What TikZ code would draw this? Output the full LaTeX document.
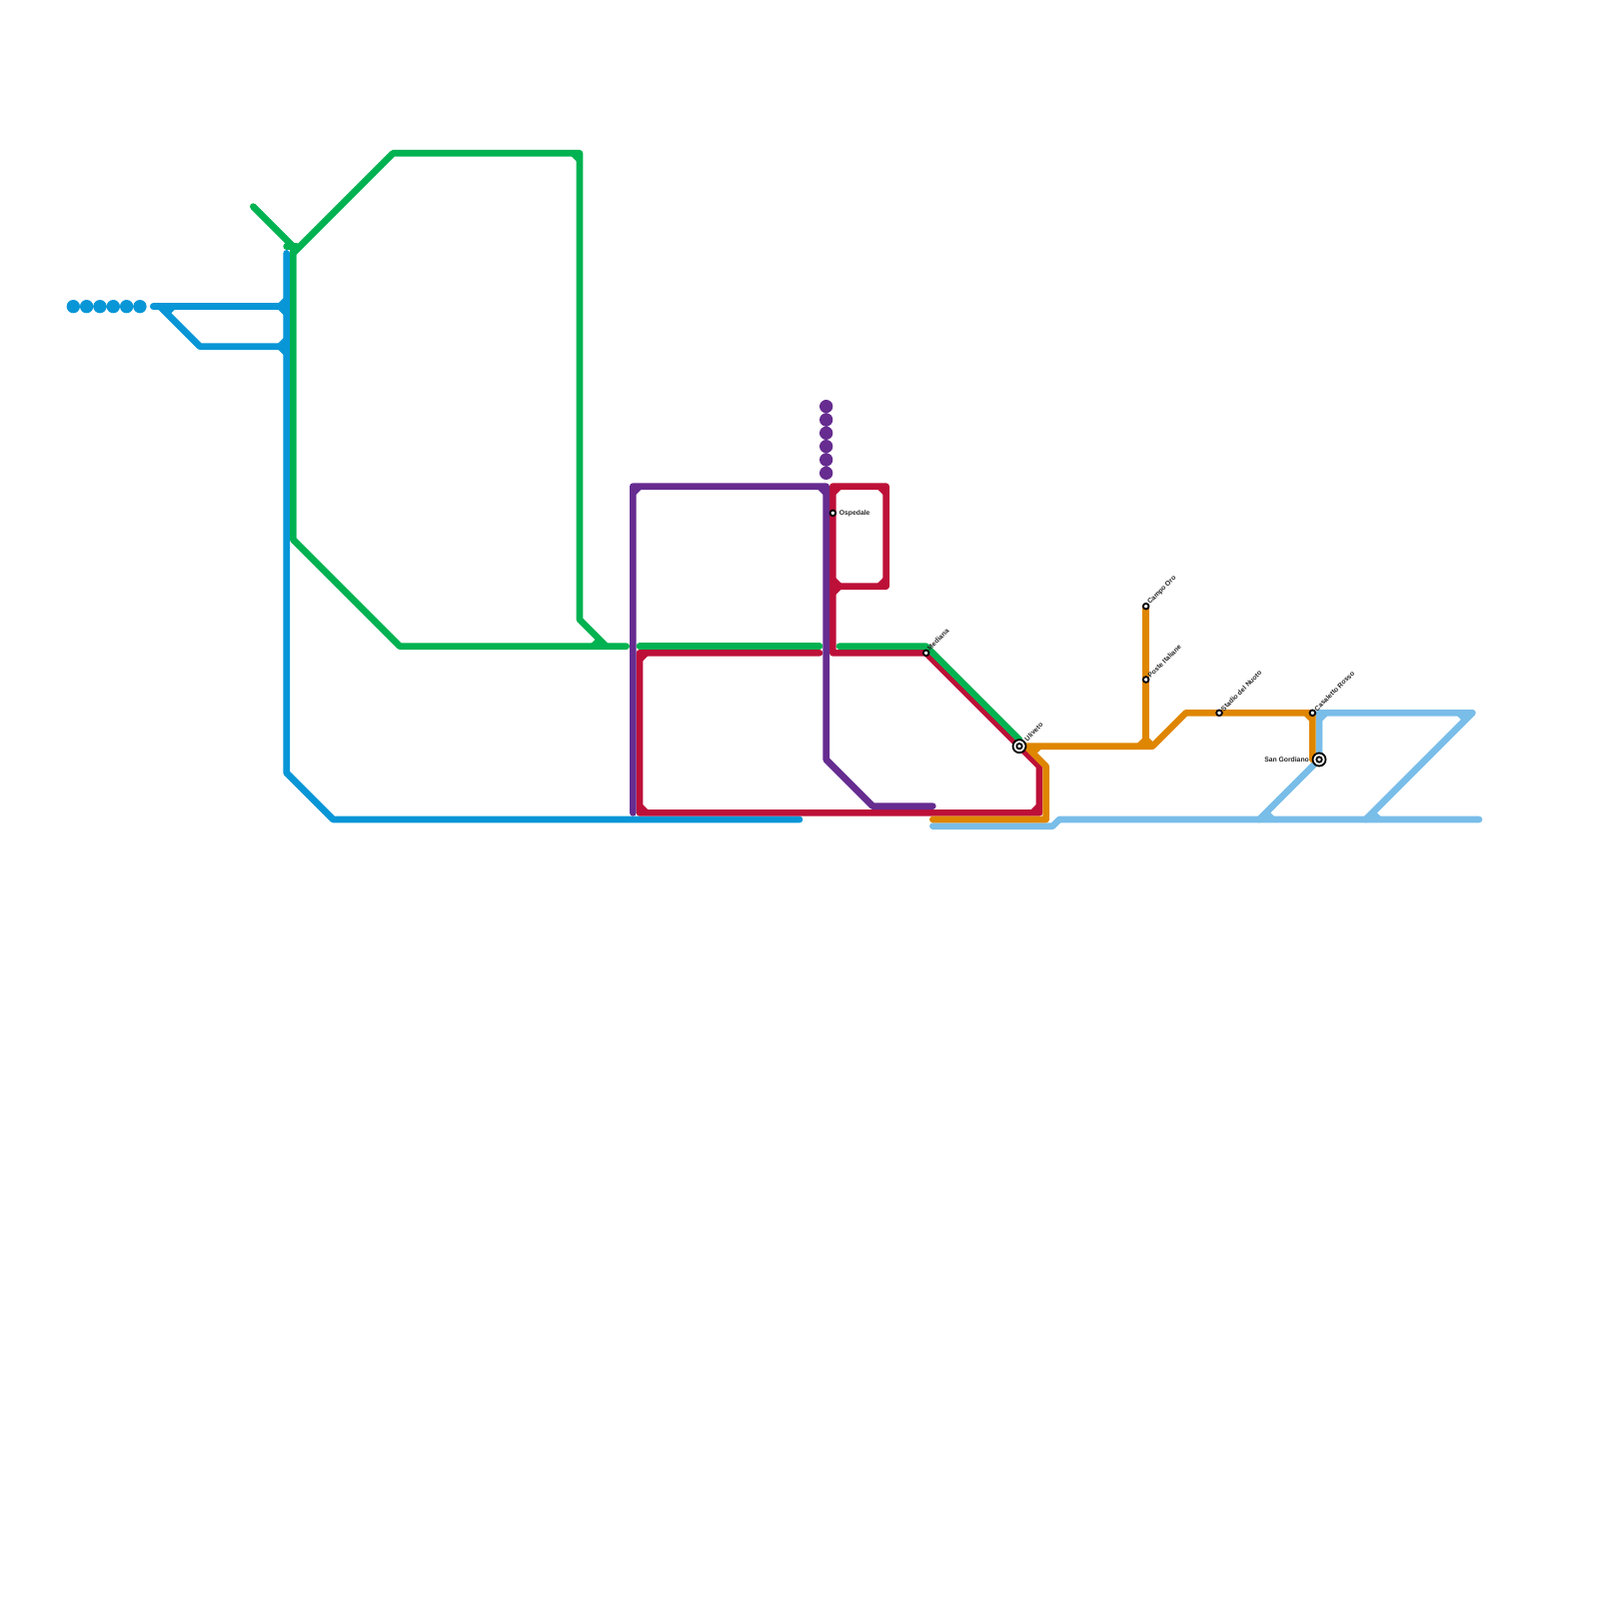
\documentclass[tikz,border=0pt]{standalone}
\usepackage{fontspec}
\setmainfont{Liberation Sans}
\usetikzlibrary{positioning}
\definecolor{lineblue}{HTML}{0896D7}
\definecolor{linegreen}{HTML}{00B251}
\definecolor{linepurple}{HTML}{662C90}
\definecolor{linered}{HTML}{BD1038}
\definecolor{lineorange}{HTML}{DF8600}
\definecolor{linesky}{HTML}{79BDE9}
\begin{document}
\begin{tikzpicture}[
  x=1mm, y=-1mm,
  metro/.style={draw=#1, line width=1mm, line cap=round, line join=round},
  stub/.style={draw=#1, line width=1mm},
  halt/.style={circle, draw=black, line width=0.27mm, fill=white,
    minimum size=0.85mm, inner sep=0pt},
  hub/.style={circle, draw=black, line width=0.27mm, fill=white,
    minimum size=1.95mm, inner sep=0pt},
  hubcore/.style={circle, draw=black, line width=0.27mm, fill=white,
    minimum size=0.8mm, inner sep=0pt},
  tag/.style={font=\fontsize{2.9}{3.5}\selectfont\bfseries, text=black!85, inner sep=0pt},
  slanted/.style={tag, rotate=45, anchor=west},
]

% Canvas
\useasboundingbox (0,0) rectangle (240,240);

% =============================================
% Stations (placed first, drawn again on top)
% =============================================
\coordinate (c-ospedale) at (125,77);
\coordinate (c-mediana) at (139,98);
\coordinate (c-uliveto) at (153,112);
\coordinate (c-campo) at (172,91);
\coordinate (c-poste) at (172,102);
\coordinate (c-stadio) at (183,107);
\coordinate (c-casaletto) at (197,107);
\coordinate (c-gordiano) at (198,114);

% =============================================
% Light blue line
% =============================================
\draw[metro=linesky] (140,124) -- (158,124) -- (159,123) -- (222,123);
\draw[metro=linesky] (189,123) -- (c-gordiano) -- (198,107) -- (221,107) -- (205,123);
\draw[stub=linesky] (190,122) -- (191,123);
\draw[stub=linesky] (206,122) -- (207,123);
\draw[stub=linesky] (219,107) -- (220,108);
\draw[stub=linesky] (198,108) -- (199,107);

% =============================================
% Blue line
% =============================================
\draw[metro=lineblue] (43,38) -- (43,116) -- (50,123) -- (120,123);
\draw[metro=lineblue] (23,46) -- (43,46);
\draw[metro=lineblue] (24,46) -- (30,52) -- (43,52);
\draw[stub=lineblue] (42,46) -- (43,45);
\draw[stub=lineblue] (42,46) -- (43,47);
\draw[stub=lineblue] (42,52) -- (43,51);
\draw[stub=lineblue] (42,52) -- (43,53);
\draw[stub=lineblue] (26,46) -- (25,47);
\fill[lineblue] (11,46) circle (1) (13,46) circle (1) (15,46) circle (1)
  (17,46) circle (1) (19,46) circle (1) (21,46) circle (1);

% =============================================
% Red line
% =============================================
\draw[metro=linered] (123,98) -- (96,98) -- (96,122) -- (156,122) -- (156,115)
  -- (c-uliveto) -- (c-mediana) -- (125,98) -- (125,73) -- (133,73) -- (133,88) -- (125,88);
\draw[stub=linered] (96,99) -- (97,98);
\draw[stub=linered] (96,121) -- (97,122);
\draw[stub=linered] (155,122) -- (156,121);
\draw[stub=linered] (125,74) -- (126,73);
\draw[stub=linered] (132,73) -- (133,74);
\draw[stub=linered] (132,88) -- (133,87);
\draw[stub=linered] (125,87) -- (126,88);
\draw[stub=linered] (125,89) -- (126,88);

% =============================================
% Green line
% =============================================
\draw[metro=linegreen] (38,31) -- (44,37) -- (44,81) -- (60,97) -- (94,97);
\draw[metro=linegreen] (44,38) -- (59,23) -- (87,23) -- (87,93) -- (91,97);
\draw[metro=linegreen] (43,37) -- (44.5,37);
\draw[stub=linegreen] (86,23) -- (87,24);
\draw[stub=linegreen] (89,97) -- (90,96);
\draw[metro=linegreen] (96,97) -- (123,97);
\draw[metro=linegreen] (126,97) -- (139,97) -- (153,111);

% =============================================
% Purple line
% =============================================
\draw[metro=linepurple] (95,122) -- (95,73) -- (124,73) -- (124,114) -- (131,121) -- (140,121);
\draw[stub=linepurple] (95,74) -- (96,73);
\draw[stub=linepurple] (123,73) -- (124,74);
\fill[linepurple] (124,61) circle (1) (124,63) circle (1) (124,65) circle (1)
  (124,67) circle (1) (124,69) circle (1) (124,71) circle (1);

% =============================================
% Orange line
% =============================================
\draw[metro=lineorange] (140,123) -- (157,123) -- (157,115) -- (154,112) -- (173,112)
  -- (178,107) -- (c-casaletto) -- (197,114);
\draw[metro=lineorange] (c-campo) -- (172,112);
\draw[stub=lineorange] (155,113) -- (156,112);
\draw[stub=lineorange] (171,112) -- (172,111);
\draw[stub=lineorange] (172,111) -- (173,112);
\draw[stub=lineorange] (196,107) -- (197,108);

% =============================================
% Station marks and labels
% =============================================
\node[halt] (ospedale) at (c-ospedale) {};
\node[tag, right=0.35mm of ospedale] (ospedale-tag) {Ospedale};

\node[halt] (mediana) at (c-mediana) {};
\node[slanted] (mediana-tag) at ([shift={(0.3,-0.5)}]c-mediana) {Mediana};

\node[hub] (uliveto) at (c-uliveto) {};
\node[hubcore] (uliveto-core) at (c-uliveto) {};
\node[slanted] (uliveto-tag) at ([shift={(0.9,-0.9)}]c-uliveto) {Uliveto};

\node[halt] (campo) at (c-campo) {};
\node[slanted] (campo-tag) at ([shift={(0.4,-0.4)}]c-campo) {Campo Oro};

\node[halt] (poste) at (c-poste) {};
\node[slanted] (poste-tag) at ([shift={(0.4,-0.4)}]c-poste) {Poste Italiane};

\node[halt] (stadio) at (c-stadio) {};
\node[slanted] (stadio-tag) at ([shift={(0.4,-0.4)}]c-stadio) {Stadio del Nuoto};

\node[halt] (casaletto) at (c-casaletto) {};
\node[slanted] (casaletto-tag) at ([shift={(0.4,-0.4)}]c-casaletto) {Casaletto Rosso};

\node[hub] (gordiano) at (c-gordiano) {};
\node[hubcore] (gordiano-core) at (c-gordiano) {};
\node[tag, left=0.35mm of gordiano] (gordiano-tag) {San Gordiano};

\end{tikzpicture}
\end{document}
